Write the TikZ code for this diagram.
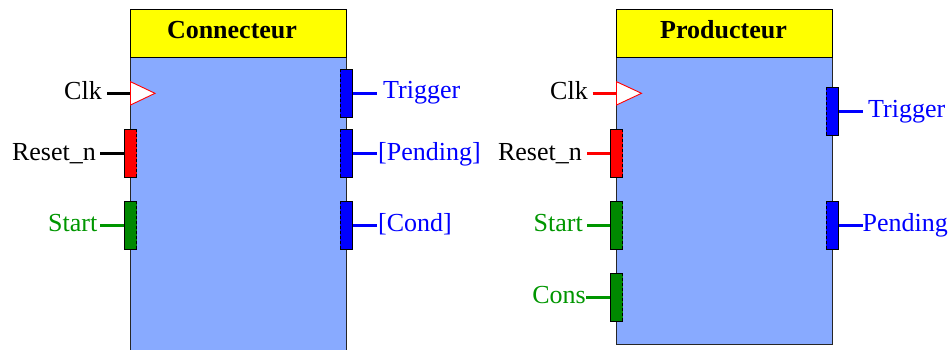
\documentclass[tikz,border=0pt]{standalone}
\usepackage{fontspec}
\setmainfont{Liberation Serif}
\newfontfamily\labelserif{Liberation Serif}
\definecolor{bodyblue}{RGB}{136,170,255}
\definecolor{hdryellow}{RGB}{255,255,0}
\definecolor{sigblue}{RGB}{0,0,255}
\definecolor{sigred}{RGB}{255,0,0}
\definecolor{siggreen}{RGB}{0,136,0}
\definecolor{txtgreen}{RGB}{0,150,0}

% port box: name, centre, fill colour, inner side, outer side
\newcommand\portbox[5]{%
  \node[portrect, fill=#3] (#1) at #2 {};
  \draw[portedge] (#1.north #4) -- (#1.north #5) -- (#1.south #5) -- (#1.south #4);
  \draw[portedge, dash pattern=on 3pt off 2pt] (#1.north #4) -- (#1.south #4);
}

\begin{document}
\begin{tikzpicture}[x=1pt, y=-1pt,
  every node/.style={font=\labelserif\fontsize{26}{30}\selectfont},
  header/.style={draw=black, line width=1pt, fill=hdryellow},
  body/.style={draw=black!85, line width=1pt, fill=bodyblue},
  title/.style={font=\labelserif\fontsize{26}{30}\selectfont\bfseries, anchor=base, inner sep=0pt},
  portrect/.style={rectangle, minimum width=12.5pt, minimum height=48pt, inner sep=0pt, outer sep=0pt},
  portedge/.style={draw=black, line width=0.7pt},
  stub/.style={line width=3pt},
  lbl/.style={inner sep=0pt},
  lbll/.style={lbl, anchor=base east},
  lblr/.style={lbl, anchor=base west},
  clktri/.style={draw=sigred, fill=white, line width=0.9pt, line join=miter}
]
\useasboundingbox (0,0) rectangle (951,349);
\clip (0,0) rectangle (951,349);

% ---------------- Connecteur ----------------
\draw[body] (130.5,57) rectangle (346.5,360);
\draw[header] (130.5,9.5) rectangle (346.5,57);
\node[title] (ctitle) at (232,38.5) {Connecteur};

% clock input
\coordinate (cclkbase) at (130.5,93.3);
\coordinate (cclkend) at (107,93.3);
\draw[stub, black] (cclkend) -- (cclkbase);
\draw[clktri] (130.5,81.7) -- (155,93.3) -- (130.5,105) -- cycle;
\node[lbll] (cclk) at (102,99.5) {Clk};

% inputs
\portbox{creset}{(130.5,153)}{sigred}{east}{west}
\portbox{cstart}{(130.5,225)}{siggreen}{east}{west}
\coordinate (cresetend) at (100,153);
\coordinate (cstartend) at (100,225);
\draw[stub, black] (cresetend) -- (creset.west);
\draw[stub, txtgreen] (cstartend) -- (cstart.west);
\node[lbll] (cresetl) at (96,160) {Reset\_n};
\node[lbll, text=txtgreen] (cstartl) at (97.5,231.5) {Start};

% outputs
\portbox{ctrig}{(346.5,93)}{sigblue}{west}{east}
\portbox{cpend}{(346.5,153)}{sigblue}{west}{east}
\portbox{ccond}{(346.5,225)}{sigblue}{west}{east}
\coordinate (ctrigend) at (377,93);
\coordinate (cpendend) at (377,153);
\coordinate (ccondend) at (377,225);
\draw[stub, sigblue] (ctrig.east) -- (ctrigend);
\draw[stub, sigblue] (cpend.east) -- (cpendend);
\draw[stub, sigblue] (ccond.east) -- (ccondend);
\node[lblr, text=sigblue] (ctrigl) at (383,98.5) {Trigger};
\node[lblr, text=sigblue] (cpendl) at (378,160.5) {[Pending]};
\node[lblr, text=sigblue] (ccondl) at (378,231.5) {[Cond]};

% ---------------- Producteur ----------------
\draw[body] (616.5,57) rectangle (832.5,344.5);
\draw[header] (616.5,9.5) rectangle (832.5,57);
\node[title] (ptitle) at (723.5,38.5) {Producteur};

% clock input
\coordinate (pclkbase) at (616.5,93.3);
\coordinate (pclkend) at (592.5,93.3);
\draw[stub, sigred] (pclkend) -- (pclkbase);
\draw[clktri] (616.5,81.7) -- (641.5,93.3) -- (616.5,105) -- cycle;
\node[lbll] (pclk) at (588,99.5) {Clk};

% inputs
\portbox{preset}{(616.5,153)}{sigred}{east}{west}
\portbox{pstart}{(616.5,225)}{siggreen}{east}{west}
\portbox{pcons}{(616.5,297)}{siggreen}{east}{west}
\coordinate (presetend) at (587,153);
\coordinate (pstartend) at (587,225);
\coordinate (pconsend) at (586,297);
\draw[stub, sigred] (presetend) -- (preset.west);
\draw[stub, txtgreen] (pstartend) -- (pstart.west);
\draw[stub, txtgreen] (pconsend) -- (pcons.west);
\node[lbll] (presetl) at (582,160) {Reset\_n};
\node[lbll, text=txtgreen] (pstartl) at (583,231.5) {Start};
\node[lbll, text=txtgreen] (pconsl) at (586,303.5) {Cons};

% outputs
\portbox{ptrig}{(832.5,111.3)}{sigblue}{west}{east}
\portbox{ppend}{(832.5,225)}{sigblue}{west}{east}
\coordinate (ptrigend) at (862.5,111.3);
\coordinate (ppendend) at (862.5,225);
\draw[stub, sigblue] (ptrig.east) -- (ptrigend);
\draw[stub, sigblue] (ppend.east) -- (ppendend);
\node[lblr, text=sigblue] (ptrigl) at (868,117) {Trigger};
\node[lblr, text=sigblue] (ppendl) at (862.5,231.5) {Pending};
\end{tikzpicture}
\end{document}
